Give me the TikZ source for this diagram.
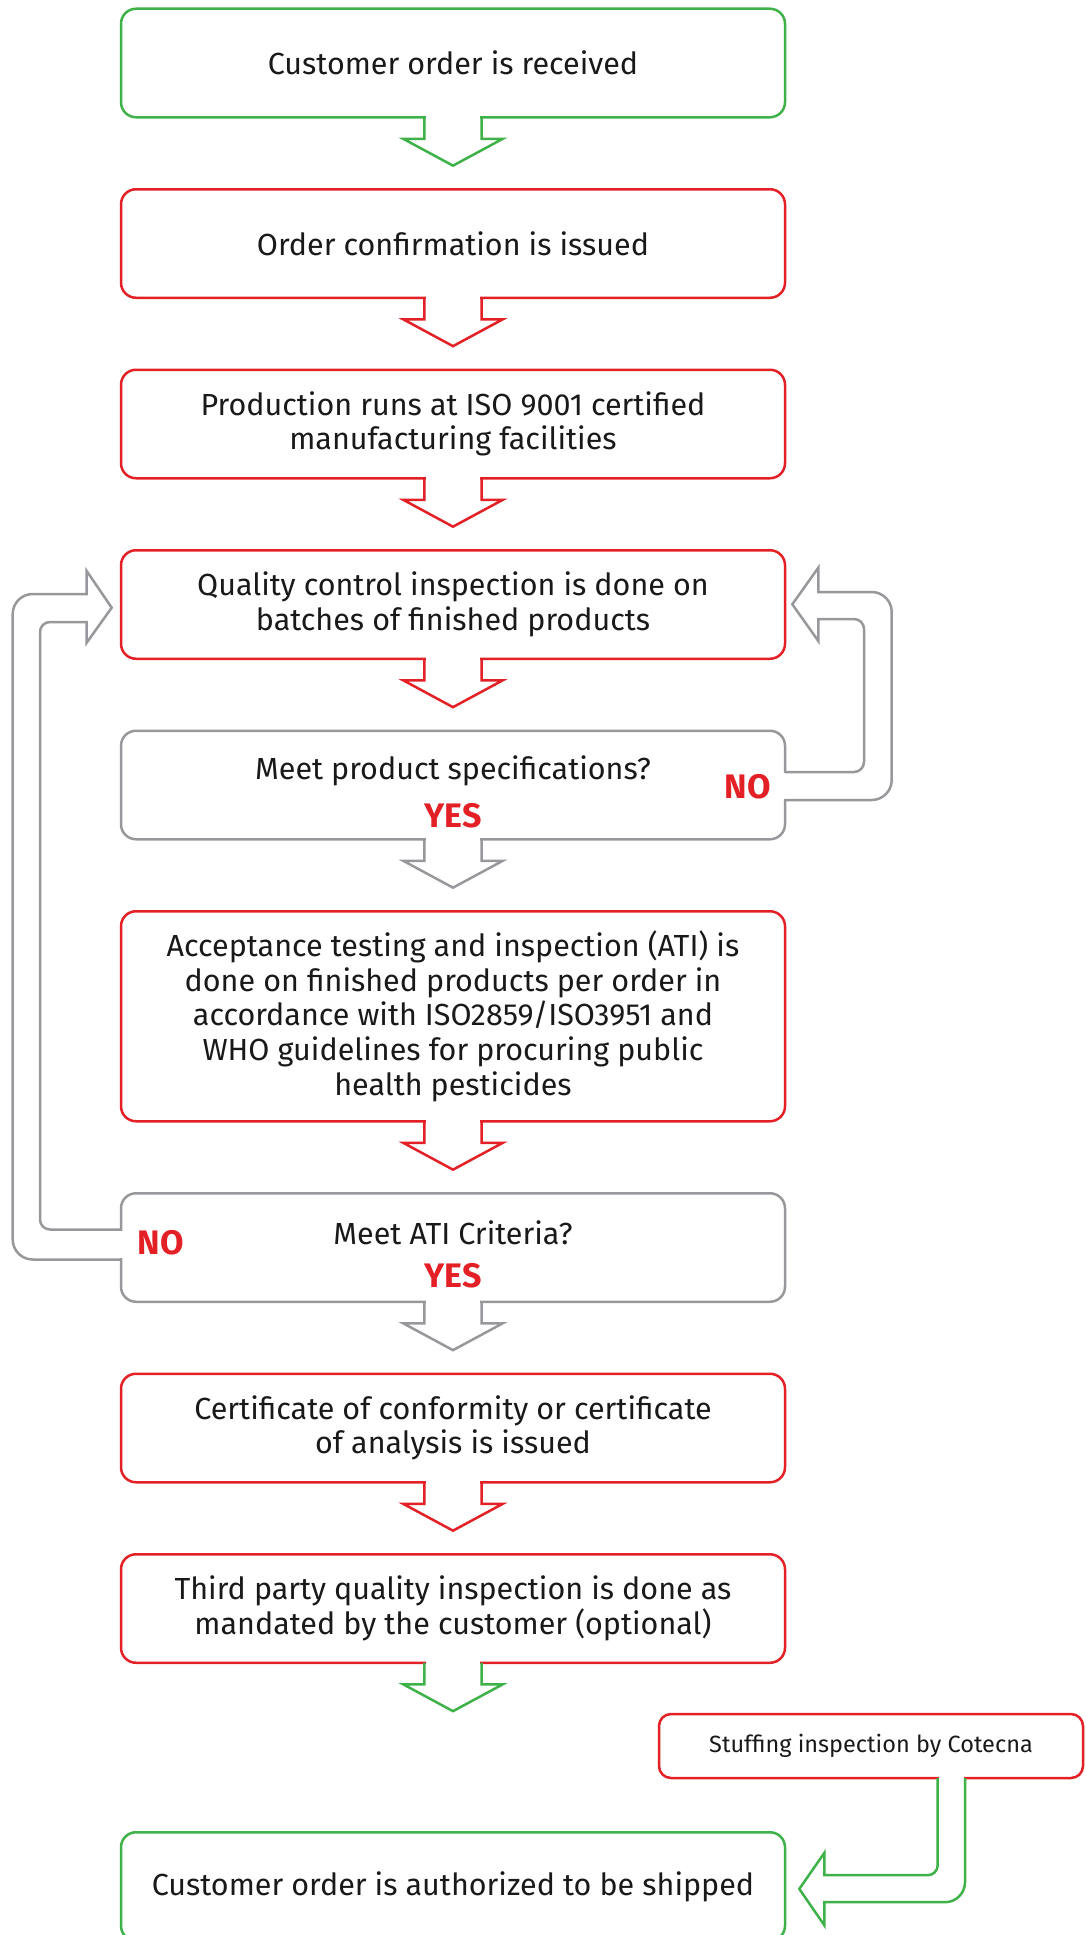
\documentclass[tikz,border=0pt]{standalone}
\usepackage{fontspec}
\setmainfont{Fira Sans}
\usetikzlibrary{positioning,calc}

\definecolor{stepgreen}{RGB}{62,178,72}
\definecolor{stepred}{RGB}{226,32,38}
\definecolor{stepgray}{RGB}{152,152,156}

\tikzset{
  stepbox/.style={draw, rectangle, rounded corners=15pt, line width=2.5pt, outer sep=0pt,
    minimum width=664pt, minimum height=108.5pt, align=center, text=black!90,
    font=\fontsize{30.5}{34.6}\selectfont},
  answer/.style={text=stepred, font=\bfseries\fontsize{34}{34}\selectfont},
  blockarrow/.style={line width=2.5pt, line join=miter},
}

% open block arrow hanging below a box
\newcommand\blockdown[2]{%
  \fill[white] ($(#1.south)+(-27.4,-3)$) rectangle ($(#1.south)+(27.4,20)$);
  \draw[blockarrow, draw=#2] ($(#1.south)+(-28.7,0)$) -- ++(0,21.7) -- ++(-20.8,0)
    -- ($(#1.south)+(0,48.4)$) -- ($(#1.south)+(49.5,21.7)$) -- ++(-20.8,0) -- ++(0,-21.7);
}
% red YES under a question
\newcommand\yesline{{\color{stepred}\bfseries\fontsize{34}{34}\selectfont YES}}

\begin{document}
\begin{tikzpicture}[x=1pt, y=-1pt, node distance=72pt]
  \useasboundingbox (0,0) rectangle (1085,1935);

  % main column
  \node[stepbox, draw=stepgreen] (recv) at (453,63) {Customer order is received};
  \node[stepbox, draw=stepred, below=of recv] (conf) {Order confirmation is issued};
  \node[stepbox, draw=stepred, below=of conf] (prod) {Production runs at ISO 9001 certified\\manufacturing facilities};
  \node[stepbox, draw=stepred, below=of prod] (qc) {Quality control inspection is done on\\batches of finished products};
  \node[stepbox, draw=stepgray, below=of qc] (spec) {\rule{0pt}{38pt}Meet product specifications?\\[13.4pt]\yesline};
  \node[stepbox, draw=stepred, below=of spec, minimum height=210pt] (ati) {Acceptance testing and inspection (ATI) is\\done on finished products per order in\\accordance with ISO2859/ISO3951 and\\WHO guidelines for procuring public\\health pesticides};
  \node[stepbox, draw=stepgray, below=of ati] (atiok) {\rule{0pt}{38pt}Meet ATI Criteria?\\[8.4pt]\yesline};
  \node[stepbox, draw=stepred, below=of atiok] (cert) {Certificate of conformity or certificate\\of analysis is issued};
  \node[stepbox, draw=stepred, below=of cert] (third) {Third party quality inspection is done as\\mandated by the customer (optional)};
  \node[stepbox, draw=stepgreen, below=169.5pt of third] (ship) {Customer order is authorized to be shipped};

  % side box
  \node[stepbox, draw=stepred, minimum width=424pt, minimum height=64pt, rounded corners=12pt,
    font=\fontsize{23.5}{28}\selectfont] (cot) at (871,1746) {Stuffing inspection by Cotecna};

  % answers on the loops
  \node[answer] (specno) at ($(spec.east)+(-37,2)$) {NO};
  \node[answer] (atino) at ($(atiok.west)+(39.5,-4.5)$) {NO};

  % arrows down the column
  \foreach \a/\c in {recv/stepgreen, conf/stepred, prod/stepred, qc/stepred, spec/stepgray,
      ati/stepred, atiok/stepgray, cert/stepred, third/stepgreen}
    \blockdown{\a}{\c};

  % loop back on the left
  \fill[white] ($(atiok.west)+(-3,-16.7)$) rectangle ($(atiok.west)+(3,10.7)$);
  \draw[blockarrow, draw=stepgray, rounded corners=20pt] ($(atiok.west)+(0,12)$)
    -| ($(qc.west)+(-108.3,-10.5)$) [sharp corners] -- ($(qc.west)+(-34.3,-10.5)$)
    -- ($(qc.west)+(-34.3,-33.5)$) -- ($(qc.west)+(-9.3,3.2)$) -- ($(qc.west)+(-34.3,38.2)$)
    -- ($(qc.west)+(-34.3,17.5)$) [rounded corners=10pt] -- ($(qc.west)+(-81,17.5)$)
    |- ($(atiok.west)+(0,-18)$);

  % loop back on the right
  \fill[white] ($(spec.east)+(-3,-11.7)$) rectangle ($(spec.east)+(3,13.7)$);
  \draw[blockarrow, draw=stepgray, rounded corners=10pt] ($(spec.east)+(0,-13)$)
    -| ($(qc.east)+(79,14.5)$) [sharp corners] -- ($(qc.east)+(33.3,14.5)$)
    -- ($(qc.east)+(33.3,36.5)$) -- ($(qc.east)+(7.3,-0.2)$) -- ($(qc.east)+(33.3,-36.8)$)
    -- ($(qc.east)+(33.3,-12.5)$) [rounded corners=20pt] -- ($(qc.east)+(106.7,-12.5)$)
    |- ($(spec.east)+(0,15)$);

  % from the side box
  \coordinate (cotin) at ($(cot.south)+(66.7,0)$);
  \coordinate (shipin) at ($(ship.east)+(39.3,-11.3)$);
  \fill[white] ($(cot.south)+(68,-3)$) rectangle ($(cot.south)+(92.7,3)$);
  \draw[blockarrow, draw=stepgreen, rounded corners=10pt] (cotin)
    -- (cotin |- shipin) [sharp corners] -- (shipin)
    -- ($(ship.east)+(39.3,-33.6)$) -- ($(ship.east)+(14.3,2.4)$) -- ($(ship.east)+(39.3,38.7)$)
    -- ($(ship.east)+(39.3,15.7)$) [rounded corners=20pt] -| ($(cot.south)+(94,0)$);
\end{tikzpicture}
\end{document}
